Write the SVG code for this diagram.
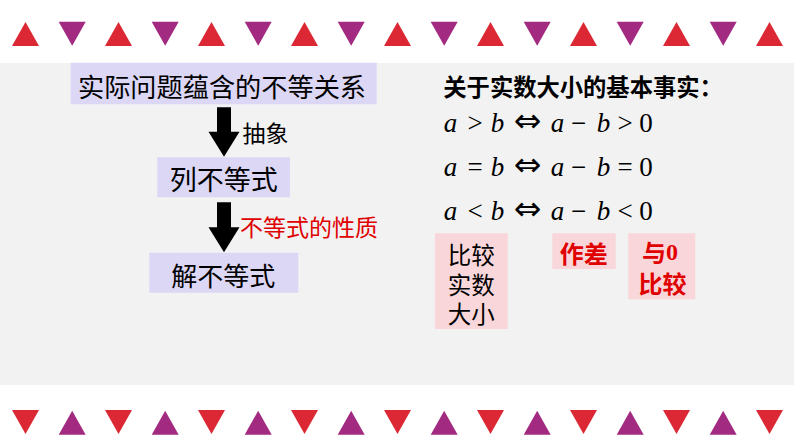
<svg xmlns="http://www.w3.org/2000/svg" xmlns:xlink="http://www.w3.org/1999/xlink" width="794" height="447" viewBox="0 0 794 447">
<style>
.cjk{font-family:"Noto Sans CJK SC","Noto Sans",sans-serif;dominant-baseline:central;}
.node{fill:#DCD7F5;}
.pink{fill:#F9D6D9;}
.red{fill:#E00000;}
.blk{fill:#000;}
.math{font-family:"Liberation Serif","DejaVu Serif",serif;font-size:27px;fill:#000;text-anchor:middle;}
.it{font-style:italic;}
.iff{font-family:"DejaVu Sans",sans-serif;font-size:33px;}
.tr{fill:#DC2834;}
.tp{fill:#A22A80;}
</style>
<defs>
<polygon id="up" points="0,24 27,24 13.5,0"/>
<polygon id="dn" points="0,0 27,0 13.5,24"/>
</defs>
<rect width="794" height="447" fill="#FFFFFF"/>
<rect x="0" y="63" width="794" height="322" fill="#F2F2F2"/>
<g id="border-top">
<use xlink:href="#up" class="tr" x="12" y="22"/>
<use xlink:href="#up" class="tr" x="105" y="22"/>
<use xlink:href="#up" class="tr" x="198" y="22"/>
<use xlink:href="#up" class="tr" x="291" y="22"/>
<use xlink:href="#up" class="tr" x="384" y="22"/>
<use xlink:href="#up" class="tr" x="477" y="22"/>
<use xlink:href="#up" class="tr" x="570" y="22"/>
<use xlink:href="#up" class="tr" x="663" y="22"/>
<use xlink:href="#up" class="tr" x="756" y="22"/>
<use xlink:href="#dn" class="tp" x="58.7" y="21.7"/>
<use xlink:href="#dn" class="tp" x="151.7" y="21.7"/>
<use xlink:href="#dn" class="tp" x="244.7" y="21.7"/>
<use xlink:href="#dn" class="tp" x="337.7" y="21.7"/>
<use xlink:href="#dn" class="tp" x="430.7" y="21.7"/>
<use xlink:href="#dn" class="tp" x="523.7" y="21.7"/>
<use xlink:href="#dn" class="tp" x="616.7" y="21.7"/>
<use xlink:href="#dn" class="tp" x="709.7" y="21.7"/>
</g>
<g id="border-bottom">
<use xlink:href="#dn" class="tr" x="12" y="410"/>
<use xlink:href="#dn" class="tr" x="105" y="410"/>
<use xlink:href="#dn" class="tr" x="198" y="410"/>
<use xlink:href="#dn" class="tr" x="291" y="410"/>
<use xlink:href="#dn" class="tr" x="384" y="410"/>
<use xlink:href="#dn" class="tr" x="477" y="410"/>
<use xlink:href="#dn" class="tr" x="570" y="410"/>
<use xlink:href="#dn" class="tr" x="663" y="410"/>
<use xlink:href="#dn" class="tr" x="756" y="410"/>
<use xlink:href="#up" class="tp" x="58.7" y="410.7"/>
<use xlink:href="#up" class="tp" x="151.7" y="410.7"/>
<use xlink:href="#up" class="tp" x="244.7" y="410.7"/>
<use xlink:href="#up" class="tp" x="337.7" y="410.7"/>
<use xlink:href="#up" class="tp" x="430.7" y="410.7"/>
<use xlink:href="#up" class="tp" x="523.7" y="410.7"/>
<use xlink:href="#up" class="tp" x="616.7" y="410.7"/>
<use xlink:href="#up" class="tp" x="709.7" y="410.7"/>
</g>
<g id="connectors">
<polygon points="217,107.3 231,107.3 231,131.7 239.5,131.7 224,156.7 208.5,131.7 217,131.7" fill="#000"/>
<polygon points="217,202.3 231,202.3 231,227.3 239.5,227.3 224,252.3 208.5,227.3 217,227.3" fill="#000"/>
<text class="cjk blk" x="242.5" y="131.7" font-size="23">抽象</text>
<text class="cjk red" x="240" y="225.5" font-size="23">不等式的性质</text>
</g>
<g id="node-problem">
<rect class="node" x="70.7" y="62.7" width="306" height="41.6"/>
<text class="cjk blk" x="222" y="85.5" font-size="26.2" text-anchor="middle">实际问题蕴含的不等关系</text>
</g>
<g id="node-list">
<rect class="node" x="157.3" y="157.3" width="132.7" height="40"/>
<text class="cjk blk" x="223.7" y="178.3" font-size="27" text-anchor="middle">列不等式</text>
</g>
<g id="node-solve">
<rect class="node" x="149.3" y="252.7" width="149" height="40"/>
<text class="cjk blk" x="223.3" y="274.3" font-size="26" text-anchor="middle">解不等式</text>
</g>
<g id="facts">
<text class="cjk blk" x="443.3" y="85.5" font-size="23.3" font-weight="bold">关于实数大小的基本事实：</text>
<g class="math">
<text y="131.7"><tspan class="it" x="450.5">a</tspan><tspan x="475">&gt;</tspan><tspan class="it" x="497.5">b</tspan><tspan class="iff" x="527.5">⇔</tspan><tspan class="it" x="557.5">a</tspan><tspan x="578.5">−</tspan><tspan class="it" x="603.5">b</tspan><tspan x="625">&gt;</tspan><tspan x="646">0</tspan></text>
<text y="176"><tspan class="it" x="450.5">a</tspan><tspan x="475">=</tspan><tspan class="it" x="497.5">b</tspan><tspan class="iff" x="527.5">⇔</tspan><tspan class="it" x="557.5">a</tspan><tspan x="578.5">−</tspan><tspan class="it" x="603.5">b</tspan><tspan x="625">=</tspan><tspan x="646">0</tspan></text>
<text y="220"><tspan class="it" x="450.5">a</tspan><tspan x="475">&lt;</tspan><tspan class="it" x="497.5">b</tspan><tspan class="iff" x="527.5">⇔</tspan><tspan class="it" x="557.5">a</tspan><tspan x="578.5">−</tspan><tspan class="it" x="603.5">b</tspan><tspan x="625">&lt;</tspan><tspan x="646">0</tspan></text>
</g>
</g>
<g id="note-compare">
<rect class="pink" x="435" y="233.3" width="72.7" height="95.7"/>
<text class="cjk blk" x="471.3" y="254" font-size="23.5" text-anchor="middle">比较</text>
<text class="cjk blk" x="471.3" y="283.5" font-size="23.5" text-anchor="middle">实数</text>
<text class="cjk blk" x="471.3" y="312.5" font-size="23.5" text-anchor="middle">大小</text>
</g>
<g id="note-diff">
<rect class="pink" x="552.3" y="233.3" width="63.4" height="35.7"/>
<text class="cjk red" x="583.7" y="252.5" font-size="24" font-weight="bold" text-anchor="middle">作差</text>
</g>
<g id="note-zero">
<rect class="pink" x="628.3" y="233.3" width="67" height="66"/>
<text class="cjk red" x="660" y="251.7" font-size="24" font-weight="bold" text-anchor="middle">与<tspan font-family="Liberation Serif,serif">0</tspan></text>
<text class="cjk red" x="662.5" y="282.2" font-size="24" font-weight="bold" text-anchor="middle">比较</text>
</g>
</svg>
